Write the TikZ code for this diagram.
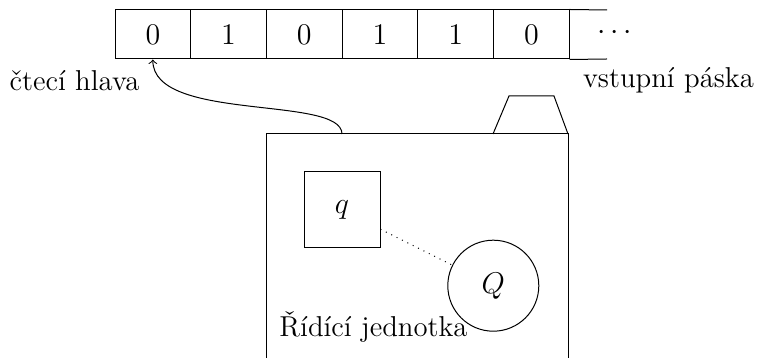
\documentclass[tikz,border=0pt]{standalone}
\usepackage{amsmath}
\usepackage{tikz}

\begin{document}
\begin{tikzpicture}[x=0.4pt,y=-0.4pt,
  cell/.style={draw,minimum width=30.28pt,minimum height=19.6pt,inner sep=0pt,font=\large},
  txt/.style={font=\fontsize{11.5}{14}\selectfont,inner sep=0pt,anchor=base},
  statebox/.style={draw,minimum size=30.4pt,inner sep=0pt,font=\large},
  qset/.style={draw,circle,minimum size=36.4pt,inner sep=0pt,font=\large}]
\useasboundingbox (0,0) rectangle (761,358);
% vstupni paska
\foreach \v [count=\i] in {0,1,0,1,1,0}
  \node[cell] (c\i) at ({115+75.7*(\i-0.5)},34.5) {$\v$};
\coordinate (e1) at (607,10);
\coordinate (e2) at (607,59);
\draw (c6.north east) -- (e1) (c6.south east) -- (e2);
\node[font=\large] (dots) at (617,33) {$\cdots$};
\node[txt] (hlava) at (74.5,91) {čtecí hlava};
\node[txt] (paska) at (668.5,88) {vstupní páska};
% ridici jednotka
\coordinate (bl) at (266,358);
\coordinate (tl) at (266,134);
\coordinate (tr) at (568,134);
\coordinate (br) at (568,358);
\draw (bl) -- (tl) -- (tr) -- (br);
\coordinate (t1) at (493,134);
\coordinate (t2) at (509,96);
\coordinate (t3) at (554,96);
\draw (t1) -- (t2) -- (t3) -- (tr);
\node[statebox] (q) at (342,210) {$q$};
\node[qset] (Q) at (493.3,285.7) {$Q$};
\draw[dotted] (q) -- (Q);
\node[txt] (jednotka) at (373.5,337) {Řídící jednotka};
% hlava
\coordinate (hl) at (342,134);
\draw[->] (hl) .. controls +(0,-39) and +(0,63) .. (c1.south);
\end{tikzpicture}
\end{document}
